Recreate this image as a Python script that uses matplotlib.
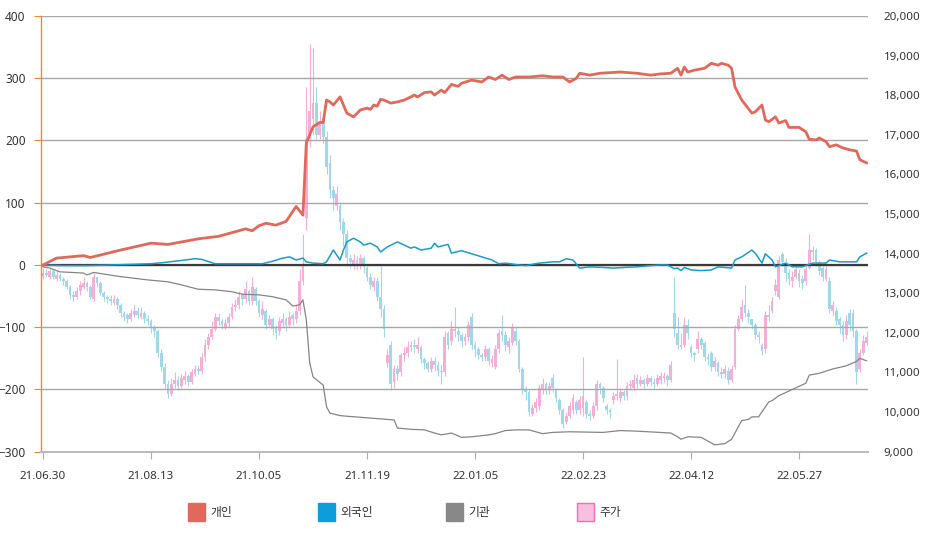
import numpy as np
import matplotlib
matplotlib.use("Agg")
import matplotlib.pyplot as plt
from matplotlib.patches import Rectangle

plt.rcParams['font.family'] = ['Noto Sans', 'Noto Sans CJK KR', 'DejaVu Sans']

# ---- data (trading-day index based) ----
tick_days = [0, 32, 64, 96, 128, 160, 192, 224]
tick_labels = ['21.06.30', '21.08.13', '21.10.05', '21.11.19', '22.01.05', '22.02.23', '22.04.12', '22.05.27']

series_names = ['개인', '외국인', '기관', '주가']

# 개인 (cumulative net buy)
indiv_days = [0, 4, 12, 14, 23, 32, 37, 46, 52, 60, 62, 64, 66, 69, 72, 75, 77, 78, 80, 82, 83, 84, 85, 86, 88,
              90, 92, 94, 96, 97, 98, 99, 100, 101, 103, 105, 107, 109, 110, 111, 113, 115, 116, 118, 119, 121,
              123, 124, 127, 130, 132, 134, 136, 138, 140, 144, 148, 151, 154, 156, 158, 159, 162, 165, 171, 176,
              180, 183, 186, 188, 189, 190, 191, 193, 196, 198, 200, 201, 203, 204, 205, 207, 210, 211, 213, 214,
              215, 217, 218, 220, 221, 224, 226, 227, 229, 230, 232, 233, 235, 237, 239, 241, 242, 244]
indiv_vals = [0, 11, 15, 12, 24, 35, 33, 42, 46, 58, 55, 63, 67, 64, 70, 94, 80, 196, 222, 229, 229, 265, 262, 257, 270,
              244, 238, 249, 252, 250, 257, 255, 266, 265, 260, 262, 265, 270, 273, 270, 277, 278, 273, 281, 277, 290,
              287, 292, 297, 294, 302, 298, 305, 298, 302, 302, 304, 302, 302, 294, 300, 308, 305, 308, 310, 308,
              305, 307, 308, 316, 305, 318, 310, 313, 316, 324, 321, 324, 321, 316, 286, 265, 244, 246, 257, 233,
              230, 238, 228, 232, 221, 221, 214, 202, 201, 204, 198, 190, 193, 188, 185, 183, 169, 164]

# 외국인
foreign_days = [0, 6, 13, 20, 32, 36, 45, 47, 51, 61, 65, 68, 71, 73, 75, 77, 78, 80, 83, 84, 86, 88, 89, 90, 92, 94,
                95, 97, 99, 100, 102, 105, 107, 109, 110, 112, 115, 116, 117, 120, 121, 124, 127, 130, 133, 135, 137,
                141, 143, 147, 151, 153, 155, 157, 159, 162, 166, 169, 172, 176, 180, 183, 185, 187, 188, 189, 190,
                192, 195, 198, 200, 204, 205, 207, 210, 211, 213, 214, 216, 217, 220, 222, 225, 228, 232, 233, 236,
                241, 242, 244]
foreign_vals = [0, -1, -1, 0, 2, 4, 10, 9, 2, 2, 2, 6, 11, 13, 8, 11, 5, 3, 2, 5, 24, 8, 24, 37, 43, 37,
                32, 35, 29, 21, 29, 37, 32, 27, 29, 24, 27, 35, 29, 33, 19, 23, 18, 13, 8, 2, 3,
                0, -1, 3, 5, 5, 10, 8, -5, -3, -4, -5, -4, -3, -1, 0, 0, -6, -5, -9, -4,
                -8, -9, -8, -3, -5, 8, 13, 24, 19, 3, 18, 8, -3, 3, -3, -3, 3, 3, 8, 5,
                5, 13, 19]

# 기관
inst_days = [0, 2, 5, 12, 13, 15, 22, 31, 37, 41, 46, 51, 56, 59, 64, 68, 72, 74, 76, 77, 78, 79, 80, 83, 84, 85, 88,
             90, 97, 104, 105, 109, 113, 116, 118, 121, 124, 127, 132, 134, 137, 140, 144, 148, 151, 156, 166, 171,
             176, 186, 188, 189, 191, 195, 199, 202, 204, 207, 209, 210, 212, 215, 216, 218, 220, 224, 226, 227, 230,
             234, 238, 241, 242, 244]
inst_vals = [-3, -5, -11, -13, -16, -12, -18, -24, -27, -32, -39, -40, -43, -47, -48, -51, -56, -66, -64, -56, -88, -157,
             -180, -193, -228, -238, -242, -243, -246, -249, -262, -264, -265, -270, -273, -270, -277, -276, -273, -271,
             -266, -265, -265, -271, -269, -268, -269, -266, -267, -270, -276, -280, -276, -277, -289, -287, -280, -250,
             -248, -244, -244, -220, -218, -210, -205, -195, -190, -177, -174, -167, -162, -155, -150, -154]

# 주가 (daily candles)
opens = [13400, 13500, 13400, 13550, 13350, 13450, 13350, 13300, 13150, 12950,
         12900, 13050, 13150, 13250, 13150, 12850, 13400, 13250, 13000, 12900,
         12850, 12750, 12850, 12700, 12500, 12450, 12350, 12450, 12550, 12400,
         12500, 12350, 12300, 12150, 12050, 11500, 11150, 10700, 10450, 10700,
         10800, 10650, 10800, 10900, 10750, 10950, 11100, 11050, 11400, 11700,
         11900, 12100, 12400, 12300, 12150, 12250, 12400, 12650, 12700, 12950,
         12850, 13050, 12800, 13100, 12800, 12450, 12550, 12200, 12350, 12150,
         12050, 12250, 12350, 12200, 12450, 12350, 12550, 13300, 14900, 16900,
         17400, 17800, 17000, 17400, 16950, 16300, 15600, 15200, 15200, 14800,
         14500, 13900, 13750, 13850, 13700, 13900, 13650, 13400, 13150, 13300,
         12900, 12600, 11250, 11700, 10750, 11100, 11000, 11450, 11500, 11650,
         11700, 11600, 11650, 11350, 11250, 11100, 11300, 11200, 11050, 11000,
         12000, 11800, 12100, 12050, 11950, 11800, 11900, 12400, 11700, 11600,
         11450, 11400, 11600, 11250, 11150, 11600, 12050, 11950, 11650, 11750,
         12050, 11800, 11100, 10550, 10500, 9950, 10100, 10150, 10550, 10700,
         10550, 10850, 10550, 10300, 10050, 9750, 9900, 10050, 10250, 10050,
         10100, 10250, 9950, 9900, 10150, 10700, 10600, 10150, 10050, 10300,
         10400, 10350, 10500, 10400, 10650, 10600, 10850, 10700, 10800, 10700,
         10850, 10750, 10700, 10800, 10850, 10900, 10800, 12500, 12000, 11650,
         11700, 12200, 11650, 11500, 11600, 11850, 11750, 11400, 11500, 11150,
         11250, 11000, 10950, 11050, 10800, 11150, 12100, 12350, 12700, 12500,
         12350, 12200, 11950, 11700, 11600, 12450, 12550, 13050, 12900, 14000,
         13750, 13500, 13300, 13400, 13500, 13350, 13300, 13650, 14100, 14100,
         13800, 13650, 13350, 13300, 12550, 12550, 12350, 12200, 11950, 12500,
         12500, 12050, 11100, 11500, 11750]
closes = [13500, 13450, 13550, 13400, 13450, 13350, 13300, 13150, 12950, 12900,
          13050, 13200, 13250, 13150, 12900, 13400, 13250, 13000, 12900, 12850,
          12800, 12850, 12700, 12500, 12400, 12350, 12500, 12550, 12450, 12500,
          12350, 12300, 12150, 12050, 11500, 11150, 10700, 10450, 10700, 10800,
          10650, 10850, 10900, 10750, 11000, 11100, 11050, 11400, 11700, 11900,
          12100, 12400, 12300, 12200, 12250, 12400, 12650, 12700, 12900, 12850,
          13100, 12800, 13150, 12800, 12500, 12600, 12200, 12350, 12100, 12000,
          12300, 12350, 12200, 12400, 12350, 12550, 13300, 13700, 16900, 17600,
          17800, 17000, 17300, 16950, 16200, 15600, 15400, 15500, 14800, 14500,
          13900, 13800, 13850, 13750, 13900, 13700, 13400, 13200, 13300, 12900,
          12600, 12100, 11450, 10700, 11100, 10950, 11450, 11500, 11650, 11700,
          11650, 11700, 11350, 11250, 11100, 11300, 11200, 11050, 11000, 11900,
          11700, 12100, 12050, 11950, 11800, 11900, 12200, 11700, 11600, 11450,
          11400, 11600, 11300, 11350, 11600, 12000, 11950, 11700, 11800, 12150,
          11800, 11100, 10550, 10500, 10000, 10100, 10250, 10600, 10700, 10550,
          10650, 10600, 10350, 10050, 9700, 9900, 10150, 10350, 10050, 10300,
          10400, 9950, 9900, 10150, 10700, 10600, 10350, 10050, 10000, 10400,
          10450, 10500, 10400, 10650, 10700, 10800, 10700, 10800, 10700, 10850,
          10750, 10700, 10850, 10900, 10900, 10800, 11200, 12100, 11700, 11700,
          12200, 12000, 11500, 11450, 11850, 11700, 11400, 11350, 11150, 11300,
          11000, 10950, 11100, 10800, 11100, 12100, 12350, 12650, 12500, 12400,
          12200, 11950, 11900, 11550, 12450, 12400, 12800, 13200, 13850, 13800,
          13500, 13350, 13400, 13600, 13300, 13250, 13600, 14100, 14050, 13800,
          13550, 13400, 13600, 12600, 12700, 12300, 12200, 11950, 12300, 12200,
          12050, 11000, 11500, 11800, 11900]
highs = [13650, 13600, 13650, 13600, 13550, 13500, 13400, 13350, 13200, 13050,
         13150, 13300, 13400, 13300, 13200, 13500, 13400, 13300, 13050, 12950,
         12950, 12950, 12900, 12750, 12550, 12500, 12600, 12700, 12650, 12650,
         12550, 12450, 12350, 12200, 12100, 11600, 11250, 10800, 10850, 11000,
         10900, 10950, 11050, 10950, 11100, 11200, 11200, 11500, 11850, 12000,
         12300, 12500, 12500, 12350, 12350, 12500, 12750, 12850, 13050, 13000,
         13300, 13100, 13400, 13150, 12850, 12800, 12600, 12450, 12400, 12200,
         12400, 12500, 12400, 12550, 12500, 12700, 13600, 14500, 18200, 19300,
         19200, 18200, 17600, 17500, 17100, 16500, 15700, 15700, 15300, 14900,
         14600, 14000, 14000, 13950, 14000, 13950, 13700, 13500, 13400, 13400,
         13700, 12700, 11600, 11800, 11200, 11200, 11500, 11650, 11800, 11800,
         11850, 11900, 11700, 11400, 11300, 11400, 11400, 11300, 11200, 12050,
         12050, 12300, 12650, 12150, 12000, 12000, 12300, 12500, 11800, 11650,
         11500, 11700, 11650, 11450, 11700, 12100, 12450, 12050, 11900, 12250,
         12150, 11850, 11150, 10650, 10550, 10200, 10350, 10700, 10850, 10750,
         10750, 10950, 10600, 10350, 10100, 10000, 10250, 10450, 10300, 10400,
         11400, 10300, 10050, 10250, 10800, 10750, 10650, 10200, 10100, 10500,
         11350, 10600, 10550, 10750, 10800, 10950, 10950, 10900, 10850, 10950,
         10900, 10850, 10950, 11000, 11000, 10950, 11300, 13400, 12400, 12000,
         12400, 12350, 11700, 11550, 12050, 11900, 11800, 11500, 11550, 11400,
         11300, 11150, 11200, 11150, 11200, 12200, 12450, 12850, 13200, 12600,
         12350, 12250, 12050, 11750, 12550, 12700, 12900, 13350, 13950, 14050,
         13900, 13600, 13550, 13700, 13600, 13450, 13700, 14500, 14200, 14150,
         13850, 13700, 13700, 13400, 12800, 12650, 12400, 12300, 12450, 12600,
         12600, 12100, 11600, 11950, 12050]
lows = [13350, 13400, 13350, 13350, 13300, 13300, 13200, 13100, 12850, 12800,
        12850, 12950, 13100, 13050, 12850, 12800, 13150, 12950, 12800, 12750,
        12700, 12700, 12600, 12400, 12300, 12250, 12300, 12400, 12350, 12350,
        12250, 12200, 12000, 11900, 11400, 11050, 10600, 10350, 10400, 10600,
        10550, 10600, 10700, 10650, 10700, 10900, 10950, 10950, 11300, 11600,
        11850, 12050, 12200, 12100, 12100, 12150, 12350, 12550, 12600, 12700,
        12750, 12700, 12700, 12700, 12400, 12350, 12100, 12150, 11950, 11850,
        11950, 12150, 12050, 12150, 12200, 12250, 12450, 13200, 14600, 16700,
        17000, 16900, 16900, 16800, 16000, 15400, 15100, 15100, 14600, 14200,
        13700, 13650, 13600, 13600, 13600, 13500, 13300, 13100, 13050, 12800,
        12400, 11900, 11150, 10550, 10600, 10800, 10900, 11300, 11400, 11550,
        11500, 11500, 11250, 11100, 11000, 11000, 11050, 10900, 10700, 10900,
        11600, 11700, 11900, 11800, 11650, 11700, 11800, 11600, 11400, 11350,
        11300, 11300, 11200, 11150, 11100, 11500, 11800, 11550, 11500, 11700,
        11700, 11000, 10450, 10300, 9900, 9900, 10000, 10050, 10450, 10450,
        10450, 10500, 10250, 9950, 9600, 9700, 9850, 9950, 9950, 9950,
        9900, 9850, 9800, 9850, 10050, 10450, 10250, 9950, 9850, 10200,
        10300, 10250, 10300, 10300, 10550, 10550, 10600, 10650, 10600, 10650,
        10650, 10600, 10650, 10700, 10750, 10650, 10750, 11900, 11600, 11600,
        11650, 11850, 11400, 11300, 11500, 11600, 11300, 11200, 11050, 11050,
        10900, 10850, 10850, 10700, 10750, 11100, 12050, 12300, 12400, 12250,
        12100, 11850, 11750, 11450, 11500, 12300, 12500, 12950, 12850, 13700,
        13300, 13200, 13150, 13350, 13150, 13100, 13200, 13600, 13850, 13700,
        13450, 13300, 13300, 12500, 12450, 12200, 12000, 11800, 11850, 12050,
        11900, 10700, 11000, 11450, 11700]

# ---- styling ----
RED = '#E0695B'
BLUE = '#1A9CCB'
GRAY = '#858585'
PINK = '#F5AFD5'
PINK_EDGE = '#EE6FB4'
SKY = '#A2D7EA'
TXT = '#333333'

fig = plt.figure(figsize=(9.29, 5.42), dpi=100)
ax = fig.add_axes([41 / 929, 1 - 451.7 / 542, 827.3 / 929, 435.7 / 542])
ax2 = ax.twinx()

# candles on the right (price) axis
d = np.arange(len(closes))
o = np.array(opens)
c = np.array(closes)
up = c >= o
cols = np.where(up, PINK, SKY)
body_lo = np.minimum(o, c)
body_h = np.maximum(np.abs(c - o), 40)
ax2.vlines(d, lows, highs, colors=cols, linewidth=0.8, zorder=1)
ax2.bar(d, body_h, bottom=body_lo, width=0.82, color=cols, linewidth=0, zorder=2)
ax2.set_ylim(9000, 20000)
ax2.set_yticks(np.arange(9000, 20001, 1000))
ax2.set_yticklabels([f'{v:,}' for v in range(9000, 20001, 1000)])
ax2.tick_params(axis='y', length=0, pad=11, labelsize=8.3, labelcolor=TXT)
for s in ax2.spines.values():
    s.set_visible(False)

# lines on the left axis, drawn above candles
ax.set_zorder(ax2.get_zorder() + 1)
ax.patch.set_visible(False)
ax.set_ylim(-300, 400)
ax.set_xlim(-0.6, 244.5)
ax.set_yticks(range(-300, 401, 100))
ax.grid(axis='y', color='#A8A8A8', linewidth=1)
ax.set_axisbelow(True)
ax.axhline(0, color='#3A3A3A', linewidth=1.6, zorder=2)

ax.plot(inst_days, inst_vals, color=GRAY, linewidth=0.9, zorder=3)
ax.plot(foreign_days, foreign_vals, color=BLUE, linewidth=1.1, zorder=4)
ax.plot(indiv_days, indiv_vals, color=RED, linewidth=2.0, zorder=5)

ax.set_xticks(tick_days)
ax.set_xticklabels(tick_labels)
ax.tick_params(axis='x', length=5, color='#AAAAAA', pad=9, labelsize=8.3, labelcolor=TXT)
ax.tick_params(axis='y', length=5, color='#F08A24', pad=6, labelsize=8.5, labelcolor=TXT)
for side in ['top', 'right']:
    ax.spines[side].set_visible(False)
ax.spines['left'].set_color('#F08A24')
ax.spines['left'].set_linewidth(1.0)
ax.spines['bottom'].set_color('#BBBBBB')
ax.spines['bottom'].set_linewidth(1.5)

# legend drawn manually below the plot
legend_faces = [RED, '#0B9ED8', '#888888', '#F9BFE0']
legend_edges = [RED, '#0B9ED8', '#888888', PINK_EDGE]
legend_x = [188, 318, 446, 577]
for name, fc, ec, lx in zip(series_names, legend_faces, legend_edges, legend_x):
    fig.add_artist(Rectangle((lx / 929, 1 - 521 / 542), 17 / 929, 18 / 542,
                             transform=fig.transFigure, facecolor=fc, edgecolor=ec, linewidth=1))
    fig.text((lx + 22) / 929, 1 - 512.5 / 542, name, fontsize=8.5, color=TXT,
             ha='left', va='center')

fig.savefig('out.png', dpi=100)
